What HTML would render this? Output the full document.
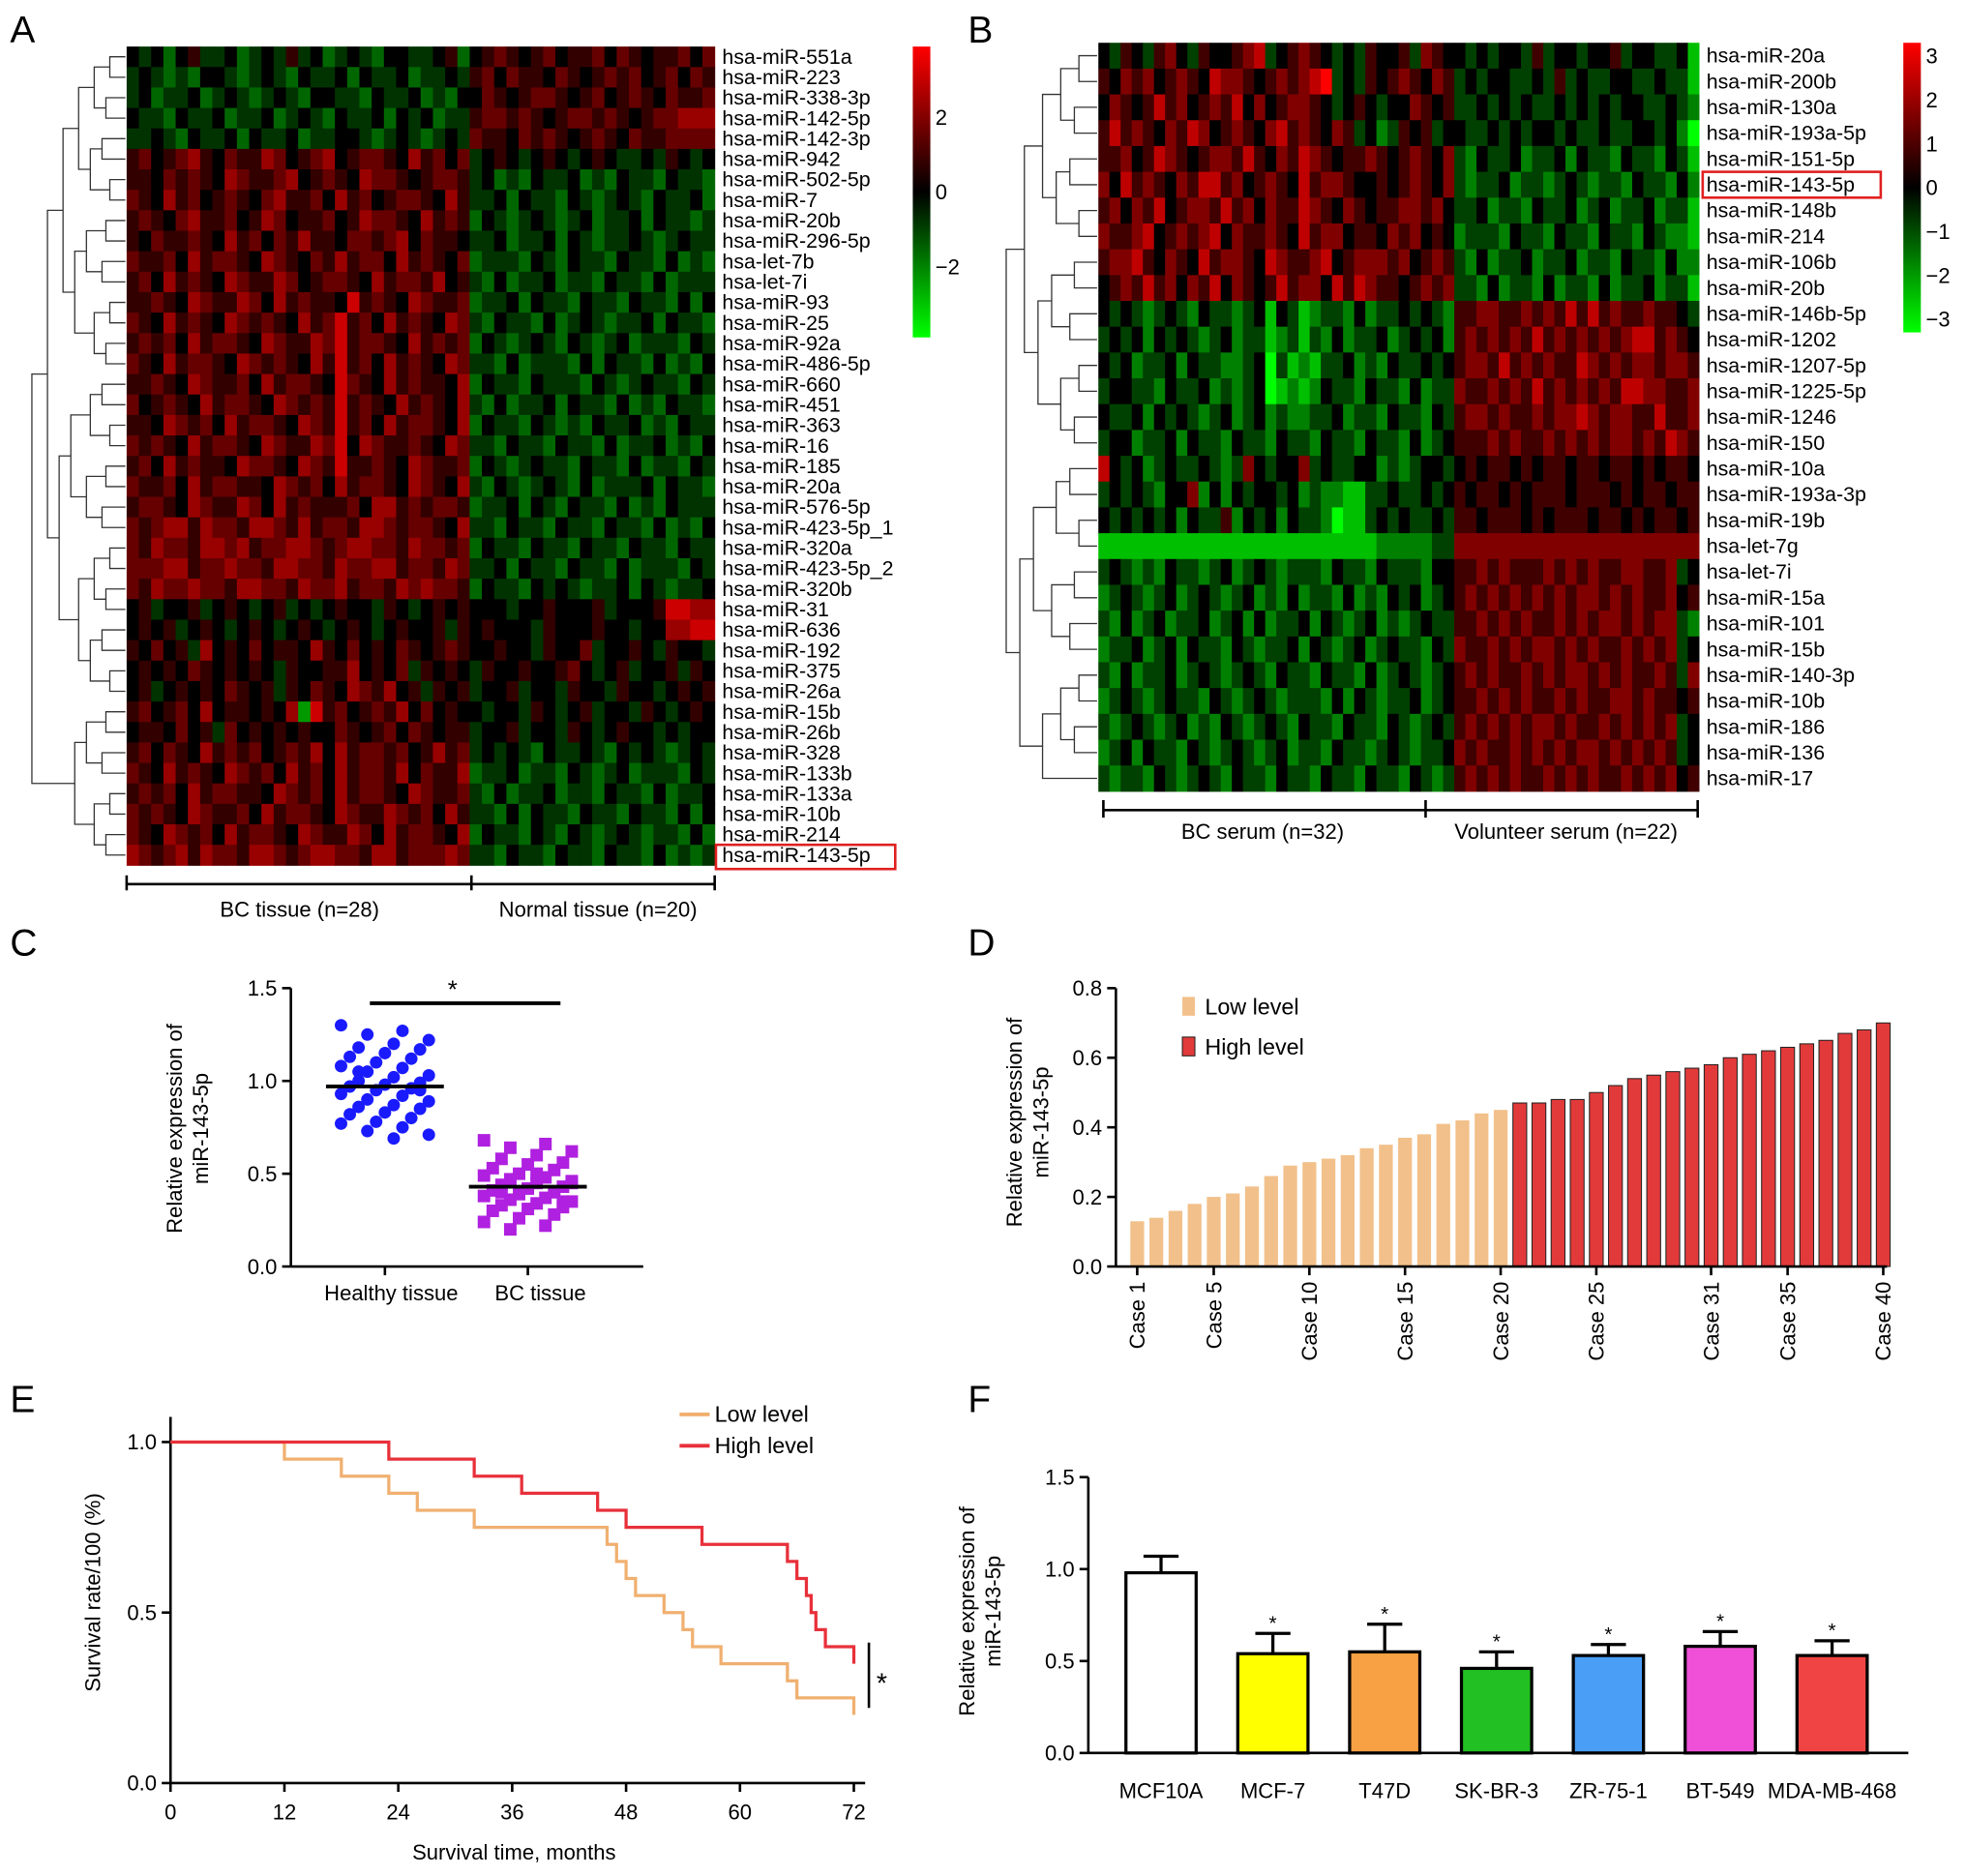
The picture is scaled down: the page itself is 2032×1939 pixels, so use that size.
<!DOCTYPE html>
<html><head><meta charset="utf-8"><style>
html,body{margin:0;padding:0;background:#fff}
svg{display:block;font-family:"Liberation Sans",Arial,sans-serif}
</style></head><body>
<svg id="fig" width="2032" height="1939" viewBox="0 0 1568 1496" xmlns="http://www.w3.org/2000/svg">
<rect width="1568" height="1496" fill="#fff"/>
<g font-size="30" fill="#000">
<text x="8" y="34">A</text>
<text x="772" y="34">B</text>
<text x="8" y="762">C</text>
<text x="772" y="762">D</text>
<text x="8" y="1126">E</text>
<text x="772" y="1126">F</text>
</g>
</svg>
<script>
// ---------------- DATA ----------------
const rowsA=["hsa-miR-551a","hsa-miR-223","hsa-miR-338-3p","hsa-miR-142-5p","hsa-miR-142-3p","hsa-miR-942","hsa-miR-502-5p","hsa-miR-7","hsa-miR-20b","hsa-miR-296-5p","hsa-let-7b","hsa-let-7i","hsa-miR-93","hsa-miR-25","hsa-miR-92a","hsa-miR-486-5p","hsa-miR-660","hsa-miR-451","hsa-miR-363","hsa-miR-16","hsa-miR-185","hsa-miR-20a","hsa-miR-576-5p","hsa-miR-423-5p_1","hsa-miR-320a","hsa-miR-423-5p_2","hsa-miR-320b","hsa-miR-31","hsa-miR-636","hsa-miR-192","hsa-miR-375","hsa-miR-26a","hsa-miR-15b","hsa-miR-26b","hsa-miR-328","hsa-miR-133b","hsa-miR-133a","hsa-miR-10b","hsa-miR-214","hsa-miR-143-5p"];
const hmA=[
"4342453342343534234324433452"+"45654564556465455646",
"3432324432343243342433423343"+"56465546545656456465",
"3423342343234324433243342324"+"46545665456456546556",
"4332433423342343243342434233"+"56656545665654566777",
"3343243342433423344323432343"+"65546565456546556666",
"5645675465576456745665475646"+"34543454345433435434",
"5546565476556745654766545665"+"34232433423243324332",
"6547564565467556475645665475"+"33424332432343243342",
"5654675564576455645766547565"+"24323432342334243323",
"5465565475646575546656746554"+"33423342432334323433",
"6556475665476546575664756546"+"23332432433243324232",
"5647565476557645665475665745"+"32423342332433242333",
"5565476557647565548565476556"+"23342433243324332424",
"6547565476565475685647565476"+"32433242343233424332",
"5656475665476557685665475656"+"24323432432342333243",
"6547566547656547585647565476"+"33242333242433242324",
"5565476556475665486547565547"+"24332433324323433243",
"6456547566547656585654756547"+"32423342433242324332",
"5547656475665476585647566547"+"24332432324334232433",
"6565475665476557684765565476"+"33243324332423342324",
"5647565547665476585565476556"+"24323433243324233243",
"6556475665547656475665476547"+"32432343242333424332",
"5665476557647565556477565665"+"23342432433242324333",
"6567757665776575665776566547"+"33243324332433242324",
"6576657767566776567766576656"+"24332433243324332433",
"6667756676657766576677566576"+"33424332433242333243",
"6576676657766576675665767665"+"24332434323342432334",
"4534453454345343454435434545"+"44434454445344458877",
"4545345434543454345434544535"+"45444354445443447788",
"5464537454645547546454654565"+"44544354463445435443",
"4545465454543544557454635454"+"35445445643453445354",
"4534545465453546547657453545"+"34453443544354434545",
"5645647455454718564565746454"+"43443543453443543454",
"4554645364545454465456465455"+"34453443543454434344",
"5646547565645657475665645756"+"34343243343243432343",
"6547565476564756475665746557"+"23342332432342333243",
"5656475665547656475665476556"+"32423342332433242334",
"6565476556475665476557656475"+"33242433243324332424",
"6547656475665476557647566547"+"24332432432343233242",
"7656757665776567766577566676"+"33243324332433242323"
];
const bcA=28, nA=20;

const rowsB=["hsa-miR-20a","hsa-miR-200b","hsa-miR-130a","hsa-miR-193a-5p","hsa-miR-151-5p","hsa-miR-143-5p","hsa-miR-148b","hsa-miR-214","hsa-miR-106b","hsa-miR-20b","hsa-miR-146b-5p","hsa-miR-1202","hsa-miR-1207-5p","hsa-miR-1225-5p","hsa-miR-1246","hsa-miR-150","hsa-miR-10a","hsa-miR-193a-3p","hsa-miR-19b","hsa-let-7g","hsa-let-7i","hsa-miR-15a","hsa-miR-101","hsa-miR-15b","hsa-miR-140-3p","hsa-miR-10b","hsa-miR-186","hsa-miR-136","hsa-miR-17"];
const hmB=[
"43543564354456734565434354453654"+"4343443534434453443341",
"54656456547665456567834354565465"+"3434433435343344334331",
"46545756456574645665434543446545"+"3343434334343434433432",
"57565465764565467565465342354534"+"4334343443433433443420",
"55645765456657546576545565456546"+"3243342334243324332431",
"64756546577564565475665445456546"+"3233423323432332433242",
"56465745665756465576546545566564"+"3342332433423423342331",
"65567456567465565475664554656454"+"2333243324332433243221",
"56675465475665476556745666564565"+"3242334233423324332422",
"45657564657465457566475765545656"+"3324233242332423342331",
"43432343243323414312332423343432"+"5566556565757565565543",
"34342434323423312313242334234342"+"5656565756565656775654",
"43423342433223403121334232433434"+"5665756565576565665665",
"34433243342323401212433243324233"+"6556565756565657766556",
"43342434323423423223342332433243"+"5665655656676566557556",
"34423342433243324332433243324234"+"5556565565656566565765",
"74342343343236434463433442323443"+"4545545455455455454554",
"34343244624243443423221133433434"+"5455454555455545455455",
"43434342433524342433201134343343"+"5545554545554554545545",
"11111111111111111111111112222233"+"6666666666666666666666",
"34323243323423432333243324333244"+"5565655565656556655634",
"23432342343234232423324232434234"+"5656565656566565655645",
"32423423342342423342432342323433"+"5565656556565665656632",
"23342342433243233424323423433243"+"6556565665656556565634",
"32423342343234324332433242343234"+"5656556565665656556536",
"23432343324323432333242432334234"+"5565656556565566565545",
"32343234232432343243324332432343"+"5656565665655656565634",
"23424332432343234233243323432334"+"6565565656566565656534",
"32332432343243324332433243324323"+"5656565565656556565645"
];
const bcB=32, vB=22;

const scatterHealthy=[1.30,1.27,1.25,1.22,1.20,1.18,1.17,1.15,1.13,1.12,1.10,1.08,1.07,1.05,1.03,1.02,1.00,0.99,0.98,0.97,0.96,0.95,0.93,0.92,0.90,0.89,0.87,0.86,0.85,0.83,0.82,0.80,0.78,0.77,0.75,0.73,0.71,0.69,1.05,0.95];
const scatterBC=[0.68,0.66,0.64,0.62,0.60,0.58,0.56,0.55,0.53,0.52,0.50,0.49,0.48,0.47,0.46,0.45,0.44,0.43,0.42,0.41,0.40,0.39,0.38,0.37,0.36,0.35,0.34,0.33,0.32,0.31,0.30,0.28,0.26,0.24,0.22,0.20,0.45,0.50,0.40,0.35];
const meanC=[0.97,0.43];
const catC=["Healthy tissue","BC tissue"];
const ticksC=[0,0.5,1.0,1.5];

const caseVals=[0.13,0.14,0.16,0.18,0.20,0.21,0.23,0.26,0.29,0.30,0.31,0.32,0.34,0.35,0.37,0.38,0.41,0.42,0.44,0.45,0.47,0.47,0.48,0.48,0.50,0.52,0.54,0.55,0.56,0.57,0.58,0.60,0.61,0.62,0.63,0.64,0.65,0.67,0.68,0.70];
const caseLabelIdx=[1,5,10,15,20,25,31,35,40];
const ticksD=[0,0.2,0.4,0.6,0.8];

const lowT=[0,12,18,23,26,32,46,47,48,49,52,54,55,58,65,66,72];
const lowS=[1.0,0.95,0.9,0.85,0.8,0.75,0.7,0.65,0.6,0.55,0.5,0.45,0.4,0.35,0.3,0.25,0.2];
const highT=[0,23,32,37,45,48,56,65,66,67,67.5,68,69,72];
const highS=[1.0,0.95,0.9,0.85,0.8,0.75,0.7,0.65,0.6,0.55,0.5,0.45,0.4,0.35];
const ticksEx=[0,12,24,36,48,60,72];
const ticksEy=[0,0.5,1.0];

const cellLines=["MCF10A","MCF-7","T47D","SK-BR-3","ZR-75-1","BT-549","MDA-MB-468"];
const cellMeans=[0.98,0.54,0.55,0.46,0.53,0.58,0.53];
const cellErr=[0.09,0.11,0.15,0.09,0.06,0.08,0.08];
const cellColors=["#ffffff","#ffff00","#f7a044","#22c022","#4a9ef5","#f050d8","#f04444"];
const ticksF=[0,0.5,1.0,1.5];

// ---------------- RENDER ----------------
const NS="http://www.w3.org/2000/svg";
const svg=document.getElementById('fig');
function mk(tag,attrs,parent,text){const e=document.createElementNS(NS,tag);for(const k in attrs)e.setAttribute(k,attrs[k]);if(text!==undefined)e.textContent=text;(parent||svg).appendChild(e);return e;}
function grp(name){const g=mk('g',{});


return g;}
function heatColor(v){v=Math.max(-1,Math.min(1,v));return v>=0?`rgb(${Math.round(255*v)},0,0)`:`rgb(0,${Math.round(255*-v)},0)`;}
function dendro(g,n,x0,x1,yTop,rh){
  let nodes=[];for(let i=0;i<n;i++)nodes.push({y:yTop+rh*(i+0.5),x:x1});
  let levels=Math.ceil(Math.log2(n))+1;const dx=(x1-x0)/levels;let lv=1;
  while(nodes.length>1){const nx=[];for(let i=0;i<nodes.length;i+=2){if(i+1<nodes.length){const a=nodes[i],b=nodes[i+1];const px=x1-dx*lv-((i/2)%3)*dx*0.25;
    mk('path',{d:`M${a.x},${a.y}H${px}V${b.y}H${b.x}`,fill:'none',stroke:'#333','stroke-width':1},g);nx.push({x:px,y:(a.y+b.y)/2});}else nx.push(nodes[i]);}
    nodes=nx;lv++;}
}
function heatmap(name,data,rows,x0,y0,w,h,scale,labelX,fs){
  const g=grp(name);const nr=data.length,nc=data[0].length;const cw=w/nc,rh=h/nr;
  data.forEach((s,r)=>{for(let c=0;c<nc;c++){const v=(s.charCodeAt(c)-48-4)/4*scale;
    const cell=mk('rect',{x:x0+c*cw,y:y0+r*rh,width:cw+0.4,height:rh+0.4,fill:heatColor(v)},g);
    
    }});
  const lg=grp(name+'-row-labels');
  const lh=h/rows.length;
  rows.forEach((t,i)=>{const e=mk('text',{x:labelX,y:y0+lh*(i+0.5)+5.5,'font-size':fs},lg,t);
    
    });
  const dg=grp(name+'-dendrogram');dendro(dg,rows.length,x0-88,x0-1,y0,lh);
  return lh;
}
function colorbar(name,x,y,w,h,ticks,range){
  const g=grp(name);const defs=mk('defs',{},g);const lgd=mk('linearGradient',{id:name+'g',x1:0,y1:0,x2:0,y2:1},defs);
  mk('stop',{offset:'0','stop-color':'#ff0000'},lgd);mk('stop',{offset:'0.5','stop-color':'#000'},lgd);mk('stop',{offset:'1','stop-color':'#00ff00'},lgd);
  mk('rect',{x,y,width:w,height:h,fill:`url(#${name}g)`},g);
  ticks.forEach(t=>{const yy=y+h/2-(t/range)*(h/2);mk('text',{x:x+w+4,y:yy+6,'font-size':17},g,t<0?'\u2212'+(-t):String(t));});
}
// Panel A
const lhA=heatmap('heatmap-a',hmA,rowsA,101,37,469,653,0.8,576,16.5);
colorbar('colorbar-a',728,37,14,232,[2,0,-2],3.9);
mk('rect',{x:571,y:37+lhA*39,width:143,height:lhA+3,fill:'none',stroke:'#e02020','stroke-width':2});
{const g=grp('group-bracket-a');mk('path',{d:'M101,698V710M101,705H570M376,698V710M570,698V710',stroke:'#000','stroke-width':2,fill:'none'},g);
mk('text',{x:239,y:731,'font-size':17,'text-anchor':'middle'},g,'BC tissue (n=28)');mk('text',{x:477,y:731,'font-size':17,'text-anchor':'middle'},g,'Normal tissue (n=20)');}
// Panel B
const lhB=heatmap('heatmap-b',hmB,rowsB,876,34,479,597,1,1361,16.5);
colorbar('colorbar-b',1518,34,14,231,[3,2,1,0,-1,-2,-3],3.3);
mk('rect',{x:1358,y:34+lhB*5,width:142,height:lhB,fill:'none',stroke:'#e02020','stroke-width':2});
{const g=grp('group-bracket-b');mk('path',{d:'M880,638V652M880,646H1354M1137,638V652M1354,638V652',stroke:'#000','stroke-width':2,fill:'none'},g);
mk('text',{x:1007,y:669,'font-size':17,'text-anchor':'middle'},g,'BC serum (n=32)');mk('text',{x:1249,y:669,'font-size':17,'text-anchor':'middle'},g,'Volunteer serum (n=22)');}

function yAxis(g,x,yb,yt,ticks,max,fmt,ytop){mk('line',{x1:x,y1:yb,x2:x,y2:(ytop===undefined?yt:ytop),stroke:'#000','stroke-width':2},g);
  ticks.forEach(t=>{const y=yb-(t/max)*(yb-yt);mk('line',{x1:x-7,y1:y,x2:x,y2:y,stroke:'#000','stroke-width':2},g);mk('text',{x:x-11,y:y+6,'font-size':17,'text-anchor':'end'},g,fmt(t));});}
// Panel C
{const g=grp('scatter-chart-c');const yb=1010,yt=788,sy=v=>yb-(v/1.5)*(yb-yt);
yAxis(g,232,yb,yt,ticksC,1.5,t=>t.toFixed(1));mk('line',{x1:232,y1:yb,x2:513,y2:yb,stroke:'#000','stroke-width':2},g);
const cx=[307,421];catC.forEach((c,i)=>{mk('line',{x1:cx[i],y1:yb,x2:cx[i],y2:yb+7,stroke:'#000','stroke-width':2},g);mk('text',{x:cx[i]+5+i*5,y:yb+27,'font-size':17,'text-anchor':'middle'},g,c);});
const t=mk('text',{transform:'translate(148,900) rotate(-90)','font-size':17,'text-anchor':'middle'},g);mk('tspan',{x:0,dy:-3},t,'Relative expression of');mk('tspan',{x:0,dy:21},t,'miR-143-5p');
scatterHealthy.forEach((v,i)=>{const d=mk('circle',{cx:cx[0]+((i*7)%11-5)*7,cy:sy(v),r:5,fill:'#1a1aff'},g);});
scatterBC.forEach((v,i)=>{const d=mk('rect',{x:cx[1]+((i*7)%11-5)*7-5,y:sy(v)-5,width:10,height:10,fill:'#b020e0'},g);});
meanC.forEach((m,i)=>mk('line',{x1:cx[i]-47,x2:cx[i]+47,y1:sy(m),y2:sy(m),stroke:'#000','stroke-width':3},g));
mk('line',{x1:295,x2:447,y1:800,y2:800,stroke:'#000','stroke-width':3},g);mk('text',{x:361,y:796,'font-size':20,'text-anchor':'middle'},g,'*');}
// Panel D
{const g=grp('bar-chart-d');const yb=1010,yt=788,sy=v=>yb-(v/0.8)*(yb-yt);
yAxis(g,890,yb,yt,ticksD,0.8,t=>t.toFixed(1));const x0=907,step=(1502-907)/39;
caseVals.forEach((v,i)=>{const b=mk('rect',{x:x0+i*step-5.5,y:sy(v),width:11,height:yb-sy(v),fill:i<20?'#f2c08a':'#e23a3a',stroke:i<20?'none':'#222','stroke-width':0.8},g);
});
mk('line',{x1:890,y1:yb,x2:1505,y2:yb,stroke:'#000','stroke-width':2},g);
caseLabelIdx.forEach(k=>{const x=x0+(k-1)*step;mk('line',{x1:x,y1:yb,x2:x,y2:yb+7,stroke:'#000','stroke-width':2},g);
mk('text',{transform:`translate(${x+6},${yb+12}) rotate(-90)`,'font-size':17,'text-anchor':'end'},g,'Case '+k);});
const t=mk('text',{transform:'translate(818,895) rotate(-90)','font-size':17,'text-anchor':'middle'},g);mk('tspan',{x:0,dy:-3},t,'Relative expression of');mk('tspan',{x:0,dy:21},t,'miR-143-5p');
mk('rect',{x:943,y:795,width:10,height:15,fill:'#f2c08a'},g);mk('text',{x:961,y:809,'font-size':18},g,'Low level');
mk('rect',{x:943,y:827,width:10,height:15,fill:'#e23a3a',stroke:'#222','stroke-width':0.8},g);mk('text',{x:961,y:841,'font-size':18},g,'High level');}
// Panel E
{const g=grp('survival-chart-e');const yb=1422,y1=1150,sx=t=>136+t/72*(681-136),sy=v=>yb-v*(yb-y1);
yAxis(g,136,yb,y1,ticksEy,1.0,t=>t.toFixed(1),1130);mk('line',{x1:136,y1:yb,x2:690,y2:yb,stroke:'#000','stroke-width':2},g);
ticksEx.forEach(t=>{mk('line',{x1:sx(t),y1:yb,x2:sx(t),y2:yb+7,stroke:'#000','stroke-width':2},g);mk('text',{x:sx(t),y:yb+29,'font-size':17,'text-anchor':'middle'},g,String(t));});
mk('text',{x:410,y:1483,'font-size':17,'text-anchor':'middle'},g,'Survival time, months');
mk('text',{transform:'translate(80,1270) rotate(-90)','font-size':17,'text-anchor':'middle'},g,'Survival rate/100 (%)');
function step(T,S){let d=`M${sx(T[0])},${sy(S[0])}`;for(let i=1;i<T.length;i++){d+=`H${sx(T[i])}V${sy(S[i])}`;}return d;}
const l1=mk('path',{d:step(lowT,lowS),fill:'none',stroke:'#f0b070','stroke-width':2.5},g);
const l2=mk('path',{d:step(highT,highS),fill:'none',stroke:'#e8303a','stroke-width':2.5},g);
mk('line',{x1:542,x2:566,y1:1128,y2:1128,stroke:'#f0b070','stroke-width':3},g);mk('text',{x:570,y:1134,'font-size':18},g,'Low level');
mk('line',{x1:542,x2:566,y1:1153,y2:1153,stroke:'#e8303a','stroke-width':3},g);mk('text',{x:570,y:1159,'font-size':18},g,'High level');
mk('line',{x1:693,x2:693,y1:1310,y2:1362,stroke:'#000','stroke-width':2},g);mk('text',{x:699,y:1350,'font-size':22},g,'*');}
// Panel F
{const g=grp('bar-chart-f');const yb=1398,yt=1178,sy=v=>yb-(v/1.5)*(yb-yt);
yAxis(g,868,yb,yt,ticksF,1.5,t=>t.toFixed(1));mk('line',{x1:868,y1:yb,x2:1522,y2:yb,stroke:'#000','stroke-width':2},g);
const t=mk('text',{transform:'translate(780,1285) rotate(-90)','font-size':17,'text-anchor':'middle'},g);mk('tspan',{x:0,dy:-3},t,'Relative expression of');mk('tspan',{x:0,dy:21},t,'miR-143-5p');
cellLines.forEach((c,i)=>{const cx=926+i*89.2,v=cellMeans[i],e=cellErr[i];
mk('path',{d:`M${cx},${sy(v)}V${sy(v+e)}M${cx-14},${sy(v+e)}H${cx+14}`,stroke:'#000','stroke-width':2.5,fill:'none'},g);
const b=mk('rect',{x:cx-28,y:sy(v),width:56,height:yb-sy(v),fill:cellColors[i],stroke:'#000','stroke-width':2.5},g);

mk('text',{x:cx,y:yb+36,'font-size':17,'text-anchor':'middle'},g,c);
if(i>0)mk('text',{x:cx,y:sy(v+e)-3,'font-size':16,'text-anchor':'middle'},g,'*');});}
</script>
</body></html>
